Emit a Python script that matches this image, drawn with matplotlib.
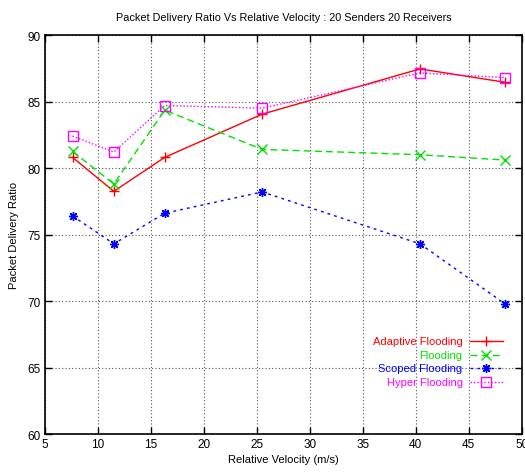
import matplotlib
matplotlib.use("Agg")
import matplotlib.pyplot as plt

plt.rcParams['font.family'] = ['Liberation Sans', 'DejaVu Sans']

velocity = [7.6, 11.5, 16.3, 25.5, 40.4, 48.4]
adaptive = [80.8, 78.25, 80.8, 84.05, 87.45, 86.45]
flooding = [81.25, 78.8, 84.35, 81.4, 81.0, 80.6]
scoped = [76.4, 74.3, 76.6, 78.2, 74.3, 69.8]
hyper = [82.4, 81.2, 84.7, 84.5, 87.15, 86.8]

series = [
    ("Adaptive Flooding", adaptive, '#ff0000', '-', '+'),
    ("Flooding", flooding, '#00e000', (0, (5, 3)), 'x'),
    ("Scoped Flooding", scoped, '#0000ff', (0, (2, 3)), (8, 2, 0)),
    ("Hyper Flooding", hyper, '#ff00ff', (0, (1, 1.5)), 's'),
]

fig = plt.figure(figsize=(5.25, 4.77), dpi=100)
ax = fig.add_axes([0.0857, 0.088, 0.908, 0.8365])

for name, vals, col, ls, mk in series:
    ax.plot(velocity, vals, color=col, linestyle=ls, linewidth=1.0,
            marker=mk, markersize=6.5, markerfacecolor='none',
            markeredgecolor=col, markeredgewidth=1.0)

ax.set_xlim(5, 50)
ax.set_ylim(60, 90)
ax.set_xticks(range(5, 51, 5))
ax.set_yticks(range(60, 91, 5))
ax.grid(True, color='#555555', linestyle=(0, (1, 2)), linewidth=0.8)
ax.tick_params(direction='in', top=True, right=True, length=5, width=1,
               labelsize=8.5, pad=3)
for s in ax.spines.values():
    s.set_linewidth(1.2)

ax.set_title("Packet Delivery Ratio Vs Relative Velocity : 20 Senders 20 Receivers",
             fontsize=7.8, pad=11)
ax.set_xlabel("Relative Velocity (m/s)", fontsize=8, labelpad=3)
ax.set_ylabel("Packet Delivery Ratio", fontsize=8, labelpad=6)

# gnuplot-style key: right aligned text, sample to the right
rows = [0.232, 0.198, 0.166, 0.130]
for (name, vals, col, ls, mk), yy in zip(series, rows):
    ax.text(0.876, yy, name, color=col, fontsize=8, ha='right', va='center',
            transform=ax.transAxes)
    ax.plot([0.891, 0.960], [yy, yy], color=col, linestyle=ls, linewidth=1.0,
            transform=ax.transAxes, clip_on=False)
    ax.plot([0.925], [yy], color=col, marker=mk, markersize=6.5,
            markerfacecolor='none', markeredgecolor=col, markeredgewidth=1.0,
            transform=ax.transAxes, clip_on=False)

fig.savefig("out.png", dpi=100)
